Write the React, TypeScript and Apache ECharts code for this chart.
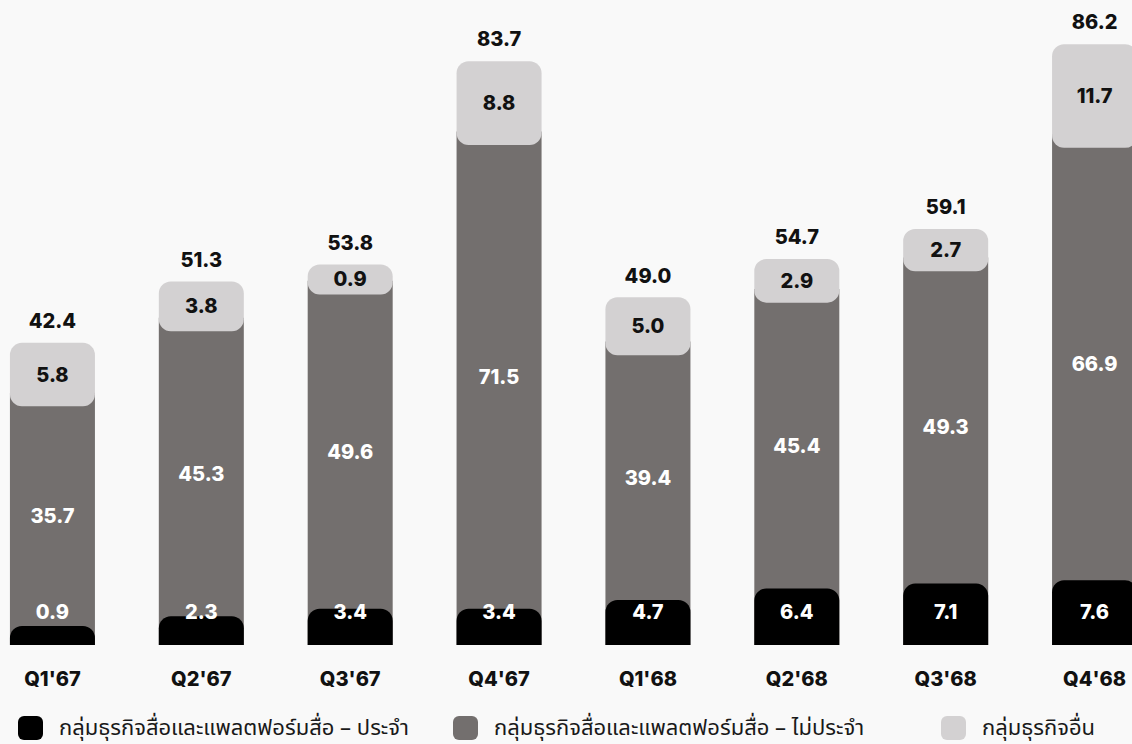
import React, { useEffect, useRef } from "react";
import * as echarts from "echarts";

const categories = ["Q1'67", "Q2'67", "Q3'67", "Q4'67", "Q1'68", "Q2'68", "Q3'68", "Q4'68"];
const recurring = [0.9, 2.3, 3.4, 3.4, 4.7, 6.4, 7.1, 7.6];
const nonRecurring = [35.7, 45.3, 49.6, 71.5, 39.4, 45.4, 49.3, 66.9];
const others = [5.8, 3.8, 0.9, 8.8, 5.0, 2.9, 2.7, 11.7];
const totals = [42.4, 51.3, 53.8, 83.7, 49.0, 54.7, 59.1, 86.2];

const seriesNames = [
  "กลุ่มธุรกิจสื่อและแพลตฟอร์มสื่อ – ประจำ",
  "กลุ่มธุรกิจสื่อและแพลตฟอร์มสื่อ – ไม่ประจำ",
  "กลุ่มธุรกิจอื่น",
];

// visual constants (axis units)
const BASE = 1.9; // bars extend a little below zero
const OVERLAP = 3.5; // light segment overlaps the dark one
const DARK_TRIM = 1.5;

const NUM_FONT = "Inter, 'Noto Sans', sans-serif";
const THAI_FONT = "'Noto Sans Thai', 'Noto Sans Thai Looped', 'Noto Sans', sans-serif";

export default function App() {
  const ref = useRef<HTMLDivElement>(null);
  useEffect(() => {
    if (!ref.current) return;
    const chart = echarts.init(ref.current, undefined, { renderer: "svg" });
    const clear = "rgba(0,0,0,0)";
    const BW = 85;
    const fmt = (arr: number[]) => (p: any) => arr[p.dataIndex].toFixed(1);
    const numLabel = { fontSize: 20, fontWeight: 800, fontFamily: NUM_FONT };

    chart.setOption({
      animation: false,
      backgroundColor: "#f9f9f9",
      grid: { left: 0, right: 0, top: 31.2, bottom: 99 },
      xAxis: {
        type: "category",
        data: categories,
        axisLine: { show: false },
        axisTick: { show: false },
        axisLabel: { ...numLabel, color: "#111", margin: 24 },
      },
      yAxis: { type: "value", min: 0, max: 90, show: false, splitLine: { show: false } },
      legend: [0, 1, 2].map((i) => ({
        data: [{ name: seriesNames[i], icon: "roundRect" }],
        left: [40, 475, 963][i],
        top: 716,
        padding: 0,
        itemWidth: 25,
        itemHeight: 24,
        selectedMode: false,
        textStyle: {
          fontSize: 22,
          lineHeight: 24,
          color: "#1a1a1a",
          fontFamily: THAI_FONT,
          padding: [0, 0, 0, 11],
        },
      })),
      series: [
        {
          name: seriesNames[1],
          type: "bar",
          barWidth: BW,
          barGap: "-100%",
          itemStyle: { color: "#736f6e" },
          data: recurring.map((v, i) => v + nonRecurring[i] + BASE - DARK_TRIM),
          silent: true,
        },
        {
          name: "_base",
          type: "bar",
          stack: "S",
          barWidth: BW,
          barGap: "-100%",
          itemStyle: { color: clear },
          data: recurring.map((v) => v + BASE),
          silent: true,
        },
        {
          name: "_darkLabel",
          type: "bar",
          stack: "S",
          barWidth: BW,
          barGap: "-100%",
          itemStyle: { color: clear },
          data: nonRecurring.map((v) => v - OVERLAP),
          label: { show: true, position: "inside", formatter: fmt(nonRecurring), color: "#fff", ...numLabel },
          silent: true,
        },
        {
          name: seriesNames[2],
          type: "bar",
          stack: "S",
          barWidth: BW,
          barGap: "-100%",
          itemStyle: { color: "#d3d1d2", borderRadius: 12 },
          data: others.map((v) => v + OVERLAP),
          label: { show: true, position: "inside", formatter: fmt(others), color: "#111", ...numLabel },
          silent: true,
        },
        {
          name: seriesNames[0],
          type: "bar",
          barWidth: BW,
          barGap: "-100%",
          itemStyle: { color: "#000", borderRadius: [12, 12, 0, 0] },
          data: recurring.map((v) => v + BASE),
          label: {
            show: true,
            position: "insideBottom",
            distance: 23,
            formatter: fmt(recurring),
            color: "#fff",
            ...numLabel,
          },
          silent: true,
        },
        {
          name: "_total",
          type: "scatter",
          symbolSize: 0,
          itemStyle: { opacity: 1 },
          data: totals.map((v) => v + BASE),
          label: {
            show: true,
            position: "top",
            distance: 12,
            formatter: fmt(totals),
            color: "#111",
            ...numLabel,
          },
          silent: true,
        },
      ],
    });
    return () => chart.dispose();
  }, []);

  return (
    <div
      style={{
        position: "fixed",
        left: 0,
        top: 0,
        width: 1132,
        height: 744,
        overflow: "hidden",
        background: "#f9f9f9",
      }}
    >
      <div ref={ref} style={{ position: "absolute", left: -22, top: 0, width: 1191, height: 744 }} />
    </div>
  );
}
